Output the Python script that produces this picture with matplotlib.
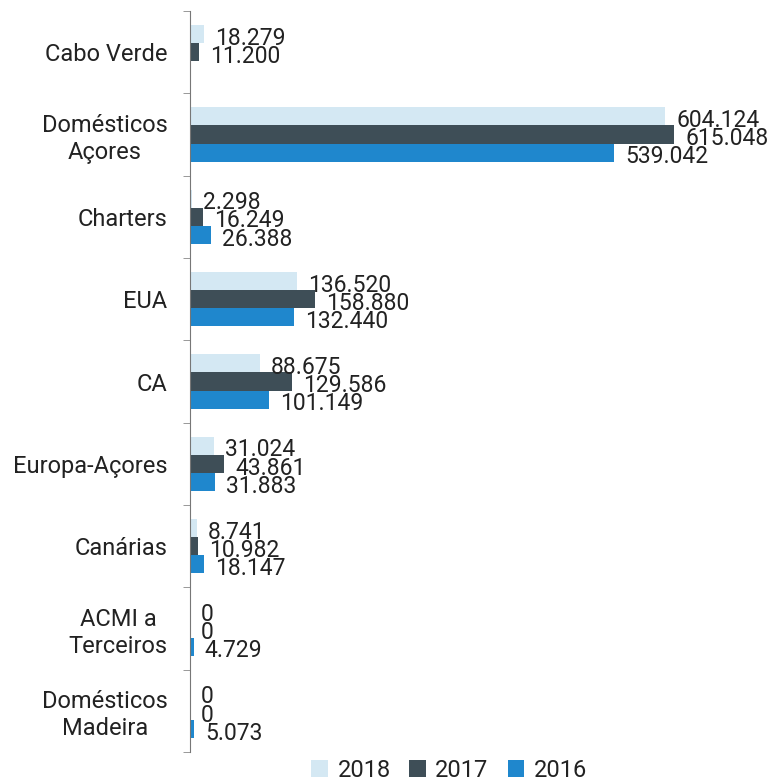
import matplotlib
matplotlib.use("Agg")
import matplotlib.pyplot as plt
import numpy as np

plt.rcParams['font.family'] = ['Roboto', 'DejaVu Sans']

categories = ["Cabo Verde", "Domésticos\nAçores", "Charters", "EUA", "CA",
              "Europa-Açores", "Canárias", "ACMI a\nTerceiros", "Domésticos\nMadeira"]
v2018 = [18279, 604124, 2298, 136520, 88675, 31024, 8741, 0, 0]
v2017 = [11200, 615048, 16249, 158880, 129586, 43861, 10982, 0, 0]
v2016 = [np.nan, 539042, 26388, 132440, 101149, 31883, 18147, 4729, 5073]
years = ["2018", "2017", "2016"]
colors = ["#d4e8f3", "#3e4e57", "#1f87cd"]


def fmt(v):
    return f"{int(v):,}".replace(",", ".")


fig = plt.figure(figsize=(7.81, 7.81), dpi=100)
ax = fig.add_axes([0.243, 0.037, 0.75, 0.949])

y = np.arange(len(categories))
h = 0.22
series = [v2018, v2017, v2016]
for i, (vals, c, yr) in enumerate(zip(series, colors, years)):
    pos = y + (i - 1) * h
    vals_arr = np.array(vals, dtype=float)
    ax.barh(pos, np.nan_to_num(vals_arr), height=h, color=c, label=yr)
    for p, v in zip(pos, vals_arr):
        if np.isnan(v):
            continue
        ax.annotate(fmt(v), (v, p), xytext=(8, -3), textcoords="offset points",
                    ha="left", va="center", fontsize=16.5, color="#222222")

ax.set_ylim(len(categories) - 0.5, -0.5)
ax.set_xlim(0, 744000)
ax.set_yticks(y)
ax.set_yticklabels(categories, fontsize=17, color="#222222", multialignment="center")
ax.tick_params(axis="y", which="major", length=0, pad=16)
ax.set_yticks(np.arange(len(categories) + 1) - 0.5, minor=True)
ax.tick_params(axis="y", which="minor", length=5, color="#888888")
ax.set_xticks([])
for s in ["top", "right", "bottom"]:
    ax.spines[s].set_visible(False)
ax.spines["left"].set_color("#777777")

fig.legend(loc="center", bbox_to_anchor=(0.575, 0.014), ncol=3, frameon=False,
           fontsize=17, handlelength=0.7, handleheight=0.7, handletextpad=0.4,
           columnspacing=0.8, labelcolor="#222222")

fig.savefig("out.png", dpi=100)
